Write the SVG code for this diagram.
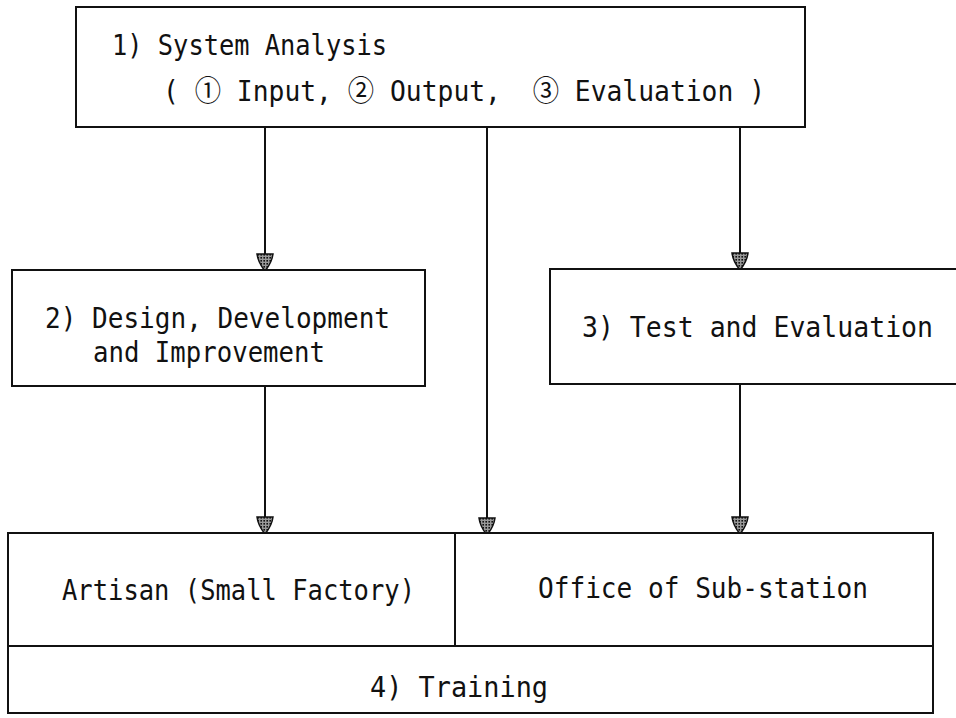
<svg xmlns="http://www.w3.org/2000/svg" width="956" height="718" viewBox="0 0 956 718">
  <style>
    .box { fill: #ffffff; stroke: #111111; stroke-width: 2; }
    .div { stroke: #111111; stroke-width: 2; fill: none; }
    .conn { stroke: #111111; stroke-width: 2; fill: none; marker-end: url(#arrow); }
    .lbl { font-family: "DejaVu Sans Mono", "Liberation Mono", "Noto Sans CJK JP", monospace; font-size: 28px; fill: #111111; }
  </style>
  <defs>
    <pattern id="hatch" width="3" height="3" patternUnits="userSpaceOnUse">
      <rect width="3" height="3" fill="#999999"/>
      <rect width="1.6" height="1.6" fill="#111111"/>
    </pattern>
    <marker id="arrow" markerUnits="userSpaceOnUse" markerWidth="20" markerHeight="20" refX="16" refY="0" viewBox="-1 -10 18 20" orient="auto">
      <path d="M0,-8 Q8,-7 16,-0.8 L16,0.8 Q8,7 0,8 Z" fill="url(#hatch)" stroke="#111111" stroke-width="1.5"/>
    </marker>
  </defs>
  <rect width="956" height="718" fill="#ffffff"/>

  <g id="connectors">
    <line class="conn" x1="265" y1="127" x2="265" y2="270"/>
    <line class="conn" x1="740" y1="127" x2="740" y2="269"/>
    <line class="conn" x1="487" y1="127" x2="487" y2="534"/>
    <line class="conn" x1="265" y1="386" x2="265" y2="533"/>
    <line class="conn" x1="740" y1="384" x2="740" y2="533"/>
  </g>

  <g id="node1">
    <rect class="box" x="76" y="7" width="729" height="120"/>
    <text class="lbl" x="112" y="55" textLength="275" lengthAdjust="spacingAndGlyphs">1) System Analysis</text>
    <text class="lbl" x="163" y="101" textLength="602" lengthAdjust="spacingAndGlyphs" xml:space="preserve">( ① Input, ② Output,  ③ Evaluation )</text>
  </g>

  <g id="node2">
    <rect class="box" x="12" y="270" width="413" height="116"/>
    <text class="lbl" x="45" y="328" textLength="345" lengthAdjust="spacingAndGlyphs">2) Design, Development</text>
    <text class="lbl" x="93" y="362" textLength="232" lengthAdjust="spacingAndGlyphs">and Improvement</text>
  </g>

  <g id="node3">
    <rect class="box" x="550" y="269" width="420" height="115"/>
    <text class="lbl" x="582" y="337" textLength="351" lengthAdjust="spacingAndGlyphs">3) Test and Evaluation</text>
  </g>

  <g id="node4">
    <rect class="box" x="8" y="533" width="925" height="180"/>
    <line class="div" x1="8" y1="646" x2="933" y2="646"/>
    <line class="div" x1="455" y1="533" x2="455" y2="646"/>
    <text class="lbl" x="62" y="600" textLength="353" lengthAdjust="spacingAndGlyphs">Artisan (Small Factory)</text>
    <text class="lbl" x="538" y="598" textLength="330" lengthAdjust="spacingAndGlyphs">Office of Sub-station</text>
    <text class="lbl" x="370" y="697" textLength="178" lengthAdjust="spacingAndGlyphs">4) Training</text>
  </g>
</svg>
